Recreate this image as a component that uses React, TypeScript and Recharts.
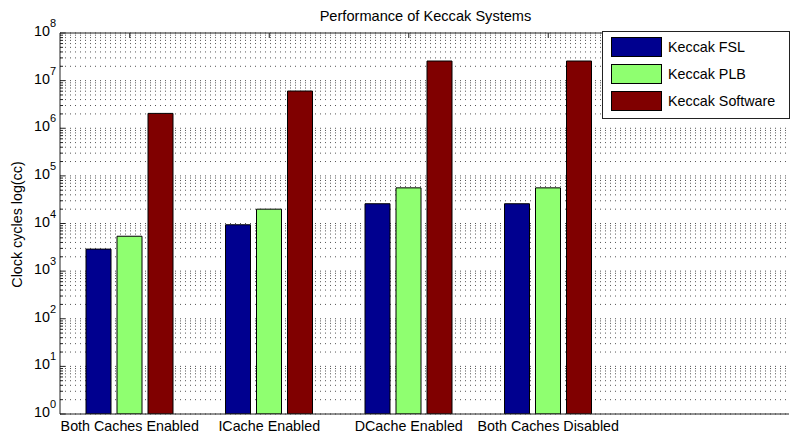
import React from 'react';
import { BarChart, Bar, XAxis, YAxis, CartesianGrid, Legend } from 'recharts';

const categories = ['Both Caches Enabled', 'ICache Enabled', 'DCache Enabled', 'Both Caches Disabled'];
const fslValues = [2900, 9400, 26000, 26000];
const plbValues = [5400, 20000, 56000, 56000];
const softwareValues = [2050000, 6050000, 25800000, 25800000];
const seriesNames = ['Keccak FSL', 'Keccak PLB', 'Keccak Software'];
const seriesColors = ['#00008F', '#8FFF70', '#800000'];
const majorTicks = [1, 10, 100, 1000, 10000, 100000, 1000000, 10000000, 100000000];
const minorMultipliers = [2, 3, 4, 5, 6, 7, 8, 9];

const allTicks: number[] = [];
majorTicks.forEach((m, i) => {
  allTicks.push(m);
  if (i < majorTicks.length - 1) minorMultipliers.forEach((k) => allTicks.push(m * k));
});

const data = categories.map((name, i) => ({
  name,
  fsl: fslValues[i],
  plb: plbValues[i],
  sw: softwareValues[i],
}));

const FONT = '"Liberation Sans", Arial, Helvetica, sans-serif';
const AXIS = '#222';

const LeftTick = (props: any) => {
  const { x, y, payload } = props;
  const v = payload.value;
  const idx = majorTicks.indexOf(v);
  const major = idx >= 0;
  return (
    <g>
      <line x1={x} x2={x + (major ? 5 : 3)} y1={y} y2={y} stroke={AXIS} strokeWidth={1} />
      {major && (
        <text x={x - 4} y={y + 3} textAnchor="end" fontSize={14.3} fontFamily={FONT} fill="#000">
          10<tspan dy={-9} fontSize={11}>{idx}</tspan>
        </text>
      )}
    </g>
  );
};

const BottomTick = (props: any) => {
  const { x, y, payload } = props;
  return (
    <text x={x} y={y + 17} textAnchor="middle" fontSize={14.3} fontFamily={FONT} fill="#000">
      {payload.value}
    </text>
  );
};

const TopTick = (props: any) => {
  const { x, y } = props;
  return <line x1={x} x2={x} y1={y} y2={y + 5} stroke={AXIS} strokeWidth={1} />;
};

const TitleLabel = (props: any) => {
  const vb = props.viewBox || {};
  return (
    <text x={vb.x + vb.width / 2 + 1} y={21} textAnchor="middle" fontSize={14.6} fontFamily={FONT} fill="#000">
      Performance of Keccak Systems
    </text>
  );
};

const YLabel = (props: any) => {
  const vb = props.viewBox || {};
  const cy = vb.y + vb.height / 2 + 1;
  return (
    <text
      x={22}
      y={cy}
      transform={`rotate(-90, 22, ${cy})`}
      textAnchor="middle"
      fontSize={14.3}
      fontFamily={FONT}
      fill="#000"
    >
      Clock cycles log(cc)
    </text>
  );
};

const LegendBox = (props: any) => {
  const payload = props.payload || [];
  return (
    <div
      style={{
        width: 188,
        height: 88,
        boxSizing: 'border-box',
        border: '1px solid #222',
        background: '#fff',
        position: 'relative',
        fontFamily: FONT,
        fontSize: 14.3,
        color: '#000',
      }}
    >
      {payload.map((p: any, i: number) => (
        <div key={i} style={{ position: 'absolute', left: 8, top: 5 + i * 27, height: 20, display: 'flex', alignItems: 'center' }}>
          <div style={{ width: 51, height: 20, boxSizing: 'border-box', background: p.color, border: '1px solid #000' }} />
          <span style={{ marginLeft: 6, lineHeight: '20px', whiteSpace: 'nowrap' }}>{p.value}</span>
        </div>
      ))}
    </div>
  );
};

export default function App() {
  return (
    <div style={{ position: 'absolute', left: 0, top: 0, width: 790, height: 435, background: '#fff' }}>
      <BarChart
        width={790}
        height={435}
        data={data}
        margin={{ top: 32, right: 1, bottom: 0, left: 0 }}
        barSize={25}
        barGap={6}
      >
        <CartesianGrid
          vertical={false}
          horizontal={true}
          stroke="#555"
          strokeDasharray="1 4"
          horizontalValues={allTicks}
        />
        <XAxis
          dataKey="name"
          xAxisId={0}
          height={21}
          padding={{ left: 0, right: 171 }}
          tickSize={0}
          tickMargin={0}
          tickLine={false}
          axisLine={{ stroke: AXIS, strokeWidth: 1 }}
          tick={<BottomTick />}
          interval={0}
        />
        <XAxis
          dataKey="name"
          xAxisId="top"
          orientation="top"
          height={1}
          padding={{ left: 0, right: 171 }}
          tickSize={0}
          tickMargin={0}
          tickLine={false}
          axisLine={{ stroke: AXIS, strokeWidth: 1 }}
          tick={<TopTick />}
          interval={0}
          label={<TitleLabel />}
        />
        <YAxis
          type="number"
          scale="log"
          domain={[1, 100000000]}
          ticks={allTicks}
          interval={0}
          width={60}
          tickSize={0}
          tickMargin={0}
          tickLine={false}
          axisLine={{ stroke: AXIS, strokeWidth: 1 }}
          tick={<LeftTick />}
          allowDataOverflow
          label={<YLabel />}
        />
        <Legend
          layout="vertical"
          align="center"
          verticalAlign="middle"
          content={<LegendBox />}
          wrapperStyle={{ top: 31, left: 602, width: 188, height: 88 }}
        />
        <Bar dataKey="fsl" name={seriesNames[0]} fill={seriesColors[0]} stroke="#000" strokeWidth={1} isAnimationActive={false} />
        <Bar dataKey="plb" name={seriesNames[1]} fill={seriesColors[1]} stroke="#000" strokeWidth={1} isAnimationActive={false} />
        <Bar dataKey="sw" name={seriesNames[2]} fill={seriesColors[2]} stroke="#000" strokeWidth={1} isAnimationActive={false} />
      </BarChart>
    </div>
  );
}
